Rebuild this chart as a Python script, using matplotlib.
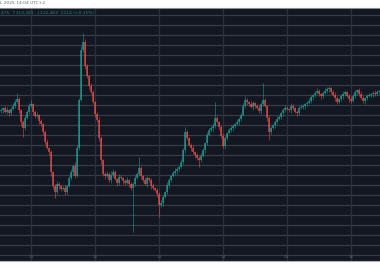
import matplotlib
matplotlib.use("Agg")
import matplotlib.pyplot as plt
import numpy as np

# ---- data ----
first_open = 112200
closes = [
    112250, 112350, 112150, 112250, 112100, 112300, 112450, 112650, 112800, 112250,
    111650, 111350, 111850, 112150, 112450, 112550, 112150, 111950, 112000, 111700,
    111550, 111150, 110650, 110350, 110150, 109150, 108450, 108150, 108550, 108450,
    108300, 108350, 108150, 108450, 108850, 109150, 109450, 108950, 110350, 112750,
    115250, 115650, 114450, 113950, 113450, 113150, 112650, 112050, 111750, 110850,
    109750, 109050, 108950, 109050, 108750, 109000, 109150, 108800, 108600, 108900,
    108850, 108700, 108600, 108750, 108550, 108350, 108550, 108850, 109050, 109350,
    108950, 108750, 108550, 108850, 108750, 108450, 108350, 108250, 108050, 107500,
    107600, 107900, 108150, 108500, 108750, 108950, 109100, 109200, 109300, 109400,
    109650, 110250, 111150, 110850, 110500, 110350, 110150, 110000, 109850, 109750,
    109950, 110250, 110600, 111000, 111250, 111350, 111450, 111850, 111650, 111400,
    110950, 110450, 110850, 111100, 111250, 111350, 111450, 111550, 111650, 111800,
    112000, 112450, 112750, 112650, 112550, 112400, 112600, 112450, 112350, 112200,
    112550, 112750, 112450, 111850, 111150, 111350, 111500, 111650, 111800, 111900,
    112100, 112250, 112350, 112300, 112250, 112450, 112350, 112150, 112100, 112350,
    112400, 112450, 112550, 112600, 112700, 112900, 113000, 113100, 113200, 113050,
    112950, 113100, 113200, 113300, 113350, 113150, 113000, 112850, 112650, 112800,
    112950, 113050, 113150, 112950, 112800, 112700, 112950, 113150, 113250, 113050,
    112850, 112700, 112850, 112950, 113000, 113050, 113100, 113050, 113150, 113200,
]
wick_up = [
    100, 50, 100, 150, 50, 100, 150, 150, 300, 100,
    50, 100, 150, 100, 150, 200, 50, 100, 150, 50,
    100, 50, 100, 150, 50, 100, 50, 100, 150, 100,
    50, 100, 150, 50, 100, 150, 100, 200, 150, 100,
    200, 450, 150, 100, 50, 150, 100, 50, 100, 150,
    100, 50, 100, 150, 100, 200, 150, 100, 50, 150,
    100, 50, 100, 150, 50, 100, 100, 150, 100, 550,
    100, 50, 150, 100, 50, 100, 150, 50, 100, 100,
    150, 100, 50, 150, 100, 50, 100, 150, 100, 50,
    150, 100, 250, 100, 50, 100, 150, 50, 100, 100,
    150, 100, 50, 150, 100, 100, 150, 800, 100, 50,
    100, 150, 100, 50, 100, 150, 100, 50, 150, 100,
    100, 150, 200, 100, 50, 150, 100, 50, 100, 150,
    100, 850, 100, 50, 150, 100, 50, 100, 150, 100,
    50, 100, 150, 100, 50, 150, 100, 50, 100, 100,
    150, 100, 50, 100, 150, 100, 50, 100, 150, 100,
    50, 100, 150, 100, 100, 50, 100, 150, 100, 50,
    100, 150, 100, 50, 100, 150, 100, 100, 50, 100,
    150, 100, 50, 100, 100, 50, 100, 150, 100, 50,
]
wick_dn = [
    100, 150, 50, 100, 150, 100, 50, 100, 50, 150,
    200, 450, 100, 50, 100, 50, 150, 100, 50, 150,
    100, 150, 100, 50, 150, 200, 150, 300, 100, 150,
    100, 50, 150, 100, 50, 100, 150, 100, 50, 100,
    50, 100, 150, 100, 150, 100, 50, 150, 100, 150,
    200, 100, 150, 50, 100, 150, 100, 50, 150, 100,
    50, 150, 100, 50, 150, 100, 2200, 100, 50, 100,
    150, 100, 50, 150, 100, 150, 100, 50, 150, 600,
    100, 150, 50, 100, 150, 100, 50, 100, 150, 100,
    50, 100, 150, 100, 50, 150, 100, 150, 100, 350,
    100, 50, 150, 100, 50, 100, 150, 100, 50, 150,
    100, 100, 150, 100, 50, 100, 150, 100, 50, 150,
    100, 50, 100, 150, 100, 50, 150, 100, 50, 100,
    150, 100, 50, 150, 400, 100, 50, 150, 100, 50,
    100, 150, 100, 50, 100, 150, 100, 50, 150, 100,
    50, 100, 150, 100, 50, 100, 150, 100, 50, 100,
    150, 100, 50, 100, 150, 100, 50, 150, 100, 50,
    100, 150, 100, 50, 150, 100, 50, 100, 150, 100,
    50, 100, 150, 100, 50, 100, 150, 100, 50, 100,
]
tick_pos = [15, 47, 79, 111, 143, 175]
tick_labels = ["31", "20", "11", "14", "05", "16"]
header_text = "L 2025 14:04 UTC+2"
ohlc_text = "475  ↑113,281  ↓112,463  C114 (+0.11%)"

# ---- derived ----
closes = np.array(closes, dtype=float)
opens = np.concatenate([[first_open], closes[:-1]])
highs = np.maximum(opens, closes) + np.array(wick_up)
lows = np.minimum(opens, closes) - np.array(wick_dn)
n = len(closes)
idx = np.arange(n)
up = closes >= opens

UP = "#26a69a"
DN = "#ef5350"
BG = "#131722"

fig = plt.figure(figsize=(3.8, 2.8), dpi=100, facecolor="white")
ax = fig.add_axes([0, (280 - 261) / 280, 1, 253 / 280])
ax.set_facecolor(BG)
ax.set_xlim(-0.5, n - 0.5)
ax.set_ylim(104700, 117350)

# grid
for p in np.arange(105000, 117500, 500):
    ax.axhline(p, color="#383c47", lw=0.9, zorder=0)
for t in tick_pos:
    ax.axvline(t, color="#2c303b", lw=0.9, zorder=0)

colors = np.where(up, UP, DN)
ax.vlines(idx, lows, highs, colors=colors, lw=0.6, alpha=0.6, zorder=2)
bottoms = np.minimum(opens, closes)
heights = np.maximum(np.abs(closes - opens), 30)
ax.bar(idx, heights, bottom=bottoms, width=0.55, color=colors, alpha=0.62,
       linewidth=0, zorder=3)

ax.set_xticks([])
ax.set_yticks([])
for s in ["left", "right"]:
    ax.spines[s].set_visible(False)
ax.spines["top"].set_color("#8a8a8a")
ax.spines["top"].set_linewidth(0.8)
ax.spines["bottom"].set_color("#b0b0b0")
ax.spines["bottom"].set_linewidth(0.8)

trans = ax.get_xaxis_transform()
for t, lab in zip(tick_pos, tick_labels):
    ax.text(t, 0.016, lab, transform=trans, ha="center", va="center",
            fontsize=3.2, color="#5d606b", zorder=5)

fig.text(0.0, 1 - 3.5 / 280, header_text, ha="left", va="center",
         fontsize=3.2, color="#666666")
fig.text(0.003, 1 - 13 / 280, ohlc_text, ha="left", va="center",
         fontsize=3.2, color="#1f8f85")

fig.savefig("out.png", dpi=100, facecolor="white")
